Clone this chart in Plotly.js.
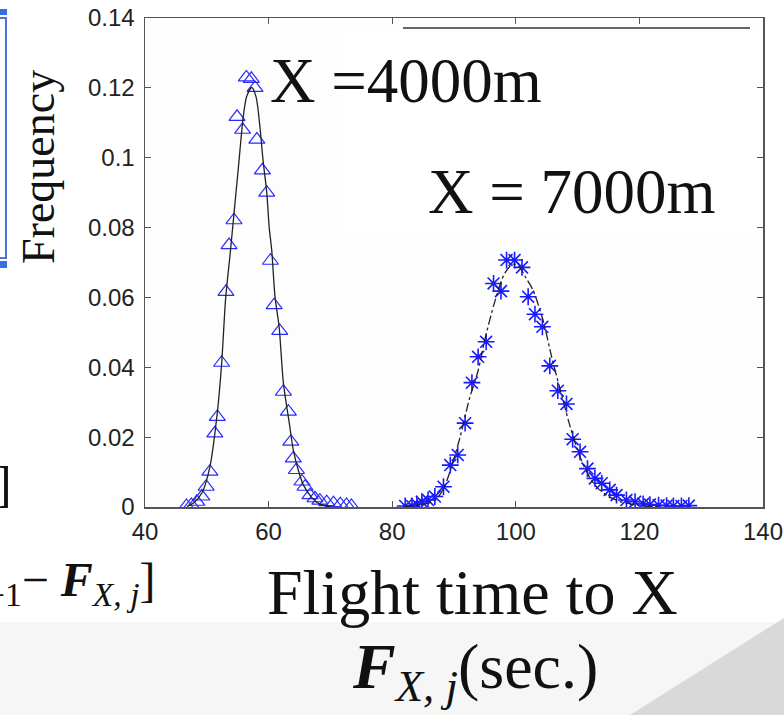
<!DOCTYPE html>
<html>
<head>
<meta charset="utf-8">
<script src="https://cdn.plot.ly/plotly-3.0.1.min.js"></script>
<style>html,body{margin:0;padding:0;background:#fff;}#chart{width:784px;height:715px;}</style>
</head>
<body>
<div id="chart"></div>
<script>
// ---- data ----
var x4000 = [46.7, 47.5, 48.4, 49.2, 49.9, 50.5, 51.3, 51.7, 52.4, 53.1, 53.6, 54.4, 54.9, 55.8, 56.4, 57.2, 57.8, 58.1, 59.0, 59.7, 60.3, 60.9, 61.8, 62.4, 63.2, 63.6, 64.0, 64.5, 65.4, 65.9, 66.7, 67.5, 68.3, 69.4, 70.5, 71.6, 72.6, 73.4];
var y4000 = [0.0003, 0.0006, 0.0015, 0.0030, 0.0058, 0.0101, 0.0211, 0.0258, 0.0413, 0.0616, 0.0750, 0.0821, 0.1117, 0.1080, 0.1230, 0.1226, 0.1200, 0.1052, 0.0964, 0.0900, 0.0705, 0.0578, 0.0504, 0.0330, 0.0273, 0.0187, 0.0139, 0.0106, 0.0073, 0.0058, 0.0034, 0.0025, 0.0018, 0.0014, 0.0011, 0.0008, 0.0006, 0.0003];

var fit4000x = [46.8, 47.9, 49.2, 50.5, 51.7, 52.4, 53.06, 53.75, 54.4, 55.1, 55.9, 56.45, 57.27, 57.96, 58.6, 59.1, 59.7, 60.1, 60.5, 61.05, 61.7, 62.4, 63.35, 64.0, 64.8, 65.6, 67.0, 68.3, 69.9];
var fit4000y = [0.0002, 0.0012, 0.0040, 0.0115, 0.0270, 0.0410, 0.0600, 0.0720, 0.0840, 0.0970, 0.1117, 0.1175, 0.1201, 0.1175, 0.1088, 0.0993, 0.0900, 0.0800, 0.0736, 0.0600, 0.0516, 0.0354, 0.0240, 0.0163, 0.0106, 0.0064, 0.0027, 0.0008, 0.0002];

var x7000 = [82.1, 83.2, 84.0, 84.8, 85.8, 86.9, 88.3, 89.4, 90.6, 91.8, 92.9, 93.9, 95.2, 96.4, 97.6, 98.5, 99.8, 101.0, 102.0, 103.1, 104.3, 105.5, 106.8, 108.2, 109.2, 110.4, 111.6, 112.8, 113.9, 115.2, 116.3, 117.9, 119.3, 120.6, 121.7, 123.1, 124.4, 125.5, 126.8, 128.0];
var y7000 = [0.0003, 0.0003, 0.0008, 0.0015, 0.0020, 0.0030, 0.0058, 0.0120, 0.0149, 0.0240, 0.0356, 0.0430, 0.0473, 0.0640, 0.0618, 0.0707, 0.0707, 0.0686, 0.0602, 0.0552, 0.0516, 0.0404, 0.0333, 0.0295, 0.0194, 0.0158, 0.0110, 0.0082, 0.0068, 0.0049, 0.0034, 0.0020, 0.0015, 0.0009, 0.0007, 0.0005, 0.0004, 0.0003, 0.0003, 0.0004];

var fit7000x = [82.0, 84.0, 86.0, 87.5, 88.5, 89.5, 91.0, 92.5, 93.9, 95.0, 96.6, 98.2, 99.5, 100.5, 101.5, 102.8, 104.4, 105.8, 107.2, 108.8, 110.4, 111.8, 113.1, 115.0, 117.0, 119.0, 121.0, 123.0];
var fit7000y = [0.0000, 0.0005, 0.0012, 0.0030, 0.0060, 0.0110, 0.0201, 0.0310, 0.0390, 0.0480, 0.0588, 0.0669, 0.0695, 0.0690, 0.0660, 0.0620, 0.0535, 0.0430, 0.0335, 0.0230, 0.0143, 0.0090, 0.0057, 0.0030, 0.0015, 0.0007, 0.0003, 0.0000];

var xTickVals = [40, 60, 80, 100, 120, 140];
var xTickText = ["40", "60", "80", "100", "120", "140"];
var yTickVals = [0, 0.02, 0.04, 0.06, 0.08, 0.1, 0.12, 0.14];
var yTickText = ["0", "0.02", "0.04", "0.06", "0.08", "0.1", "0.12", "0.14"];

// ---- layout helpers (pixel -> paper) ----
var L = 145, R = 763, T = 18, B = 507;
function px(v) { return (v - L) / (R - L); }
function py(v) { return (B - v) / (B - T); }

var serif = "Liberation Serif, Times New Roman, serif";
var sans = "Liberation Sans, Arial, sans-serif";

var traces = [
  {x: x4000, y: y4000, mode: "markers", type: "scatter",
   marker: {symbol: "triangle-up-open", size: 14, color: "#2a2aff", line: {width: 1.2, color: "#2a2aff"}}},
  {x: fit4000x, y: fit4000y, mode: "lines", type: "scatter",
   line: {color: "#222", width: 1.3, shape: "spline", smoothing: 0.8}},
  {x: x7000, y: y7000, mode: "markers", type: "scatter",
   marker: {symbol: "asterisk-open", size: 14, color: "#1a1aff", line: {width: 1.6, color: "#1a1aff"}}},
  {x: fit7000x, y: fit7000y, mode: "lines", type: "scatter",
   line: {color: "#222", width: 1.3, dash: "dashdot", shape: "spline", smoothing: 0.8}}
];

var layout = {
  width: 784, height: 715,
  margin: {l: L, r: 784 - R, t: T, b: 715 - B, pad: 0},
  paper_bgcolor: "#ffffff",
  plot_bgcolor: "#fdfdfd",
  showlegend: false,
  xaxis: {
    range: [40, 140], tickvals: xTickVals, ticktext: xTickText,
    ticks: "inside", ticklen: 6, tickwidth: 1.2, tickcolor: "#555",
    showline: true, linecolor: "#555", linewidth: 1.5, mirror: "ticks",
    showgrid: false, zeroline: false,
    tickfont: {family: sans, size: 24, color: "#222"}, ticklabelstandoff: 3
  },
  yaxis: {
    range: [0, 0.14], tickvals: yTickVals, ticktext: yTickText,
    ticks: "inside", ticklen: 6, tickwidth: 1.2, tickcolor: "#555",
    showline: true, linecolor: "#555", linewidth: 1.5, mirror: "ticks",
    showgrid: false, zeroline: false,
    tickfont: {family: sans, size: 24, color: "#222"}, ticklabelstandoff: 4
  },
  shapes: [
    {type: "rect", xref: "paper", yref: "paper", x0: px(343), x1: px(760), y0: py(32), y1: py(232),
     fillcolor: "#ffffff", line: {width: 0}, layer: "below"},
    {type: "line", xref: "paper", yref: "paper", x0: px(403), x1: px(750), y0: py(28), y1: py(28),
     line: {color: "#333", width: 1.5}},
    {type: "rect", xref: "paper", yref: "paper", x0: px(0), x1: px(784), y0: py(622), y1: py(715),
     fillcolor: "#f6f6f6", line: {width: 0}, layer: "below"},
    {type: "path", xref: "paper", yref: "paper",
     path: "M " + px(630) + " " + py(715) + " L " + px(784) + " " + py(618) + " L " + px(784) + " " + py(715) + " Z",
     fillcolor: "#d9d9d9", line: {width: 0}, layer: "below"},
    {type: "path", xref: "paper", yref: "paper",
     path: "M " + px(0) + " " + py(18) + " L " + px(6) + " " + py(18) + " L " + px(6) + " " + py(258) + " L " + px(0) + " " + py(258),
     line: {color: "#4a74d8", width: 2}},
    {type: "rect", xref: "paper", yref: "paper", x0: px(0), x1: px(7), y0: py(9), y1: py(15),
     fillcolor: "#3a6fe0", line: {width: 0}},
    {type: "rect", xref: "paper", yref: "paper", x0: px(0), x1: px(7), y0: py(261), y1: py(268),
     fillcolor: "#3a6fe0", line: {width: 0}}
  ],
  annotations: [
    {text: "Frequency", xref: "paper", yref: "paper", x: px(38), y: py(167), textangle: -90,
     showarrow: false, xanchor: "center", yanchor: "middle", font: {family: serif, size: 46, color: "#111"}},
    {text: "X =4000m", xref: "paper", yref: "paper", x: px(268), y: py(81),
     showarrow: false, xanchor: "left", yanchor: "middle", font: {family: serif, size: 63, color: "#111"}},
    {text: "X = 7000m", xref: "paper", yref: "paper", x: px(426), y: py(192),
     showarrow: false, xanchor: "left", yanchor: "middle", font: {family: serif, size: 63, color: "#111"}},
    {text: "Flight time to X", xref: "paper", yref: "paper", x: px(265), y: py(592),
     showarrow: false, xanchor: "left", yanchor: "middle", font: {family: serif, size: 64, color: "#111"}},
    {text: "<b><i>F</i></b><sub><i>X, j</i></sub>(sec.)", xref: "paper", yref: "paper", x: px(350), y: py(671),
     showarrow: false, xanchor: "left", yanchor: "middle", font: {family: serif, size: 64, color: "#111"}},
    {text: "]", xref: "paper", yref: "paper", x: px(14), y: py(484),
     showarrow: false, xanchor: "right", yanchor: "middle", font: {family: serif, size: 50, color: "#111"}},
    {text: "<sub>+1</sub>− <b><i>F</i></b><sub><i>X, j</i></sub>]", xref: "paper", yref: "paper", x: px(157), y: py(583),
     showarrow: false, xanchor: "right", yanchor: "middle", font: {family: serif, size: 48, color: "#111"}}
  ]
};

Plotly.newPlot("chart", traces, layout, {displayModeBar: false, staticPlot: true});
</script>
</body>
</html>
